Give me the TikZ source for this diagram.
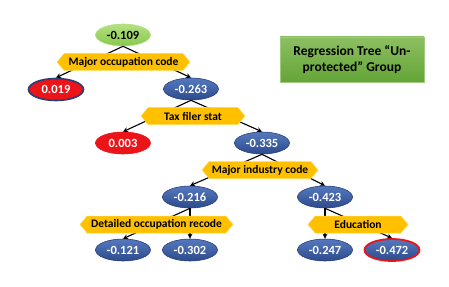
\documentclass[tikz,border=0pt]{standalone}
\usepackage{fontspec}
\setmainfont{Carlito}
\usetikzlibrary{shapes.geometric,shapes.symbols,arrows.meta}
\definecolor{nblue}{RGB}{62,96,165}
\definecolor{nbluetop}{RGB}{85,120,190}
\definecolor{nbluebot}{RGB}{45,75,140}
\definecolor{nborder}{RGB}{40,62,118}
\definecolor{nred}{RGB}{235,20,25}
\definecolor{ban}{RGB}{255,192,0}
\definecolor{banedge}{RGB}{255,220,80}
\definecolor{gtop}{RGB}{180,225,130}
\definecolor{gbot}{RGB}{135,200,75}
\definecolor{tgreen}{RGB}{120,180,70}
\definecolor{tgreenbot}{RGB}{100,165,55}
\tikzset{
  leaf/.style={ellipse, minimum width=55pt, minimum height=22pt, inner sep=0pt,
    top color=nbluetop, bottom color=nbluebot, draw=nborder, line width=0.6pt,
    text=white, font=\bfseries\fontsize{12.5}{14}\selectfont},
  redleaf/.style={leaf, top color=nred, bottom color=nred, draw=nred},
  rootnode/.style={leaf, top color=gtop, bottom color=gbot, draw=gtop, text=black},
  banner/.style={signal, signal to=west and east, signal pointer angle=100,
    minimum height=17pt, inner sep=0pt, fill=ban, draw=banedge, line width=0.5pt,
    font=\bfseries\fontsize{11.5}{13}\selectfont, text=black},
  edge/.style={draw=black, line width=1.1pt, -{Stealth[length=5pt,width=5pt]}}
}
\begin{document}
\begin{tikzpicture}[x=1pt,y=-1pt]
\useasboundingbox (0,0) rectangle (449,286);
% title
\node[rectangle, minimum width=144pt, minimum height=45pt, inner sep=0pt,
  top color=tgreen!85!white, bottom color=tgreenbot, draw=tgreen!70!white, line width=0.6pt,
  align=center, font=\bfseries\fontsize{13.5}{16}\selectfont] (title) at (352,59.5)
  {Regression Tree “Un-\\protected” Group};
% value nodes
\node[rootnode] (n0) at (123,35) {-0.109};
\node[redleaf, draw=nborder, line width=1.6pt] (n1) at (56,89.5) {0.019};
\node[leaf] (n2) at (191,89) {-0.263};
\node[redleaf] (n3) at (123,143) {0.003};
\node[leaf] (n4) at (262,143) {-0.335};
\node[leaf] (n5) at (190,197) {-0.216};
\node[leaf] (n6) at (325,197) {-0.423};
\node[leaf] (n7) at (123,250) {-0.121};
\node[leaf] (n8) at (190,250) {-0.302};
\node[leaf] (n9) at (325,250) {-0.247};
\node[leaf, draw=nred, line width=1.8pt] (n10) at (392,250) {-0.472};
% connectors
\draw[edge] (n0.south) -- (n1.north);
\draw[edge] (n0.south) -- (n2.north);
\draw[edge] (n2.south) -- (n3.north);
\draw[edge] (n2.south) -- (n4.north);
\draw[edge] (n4.south) -- (n5.north);
\draw[edge] (n4.south) -- (n6.north);
\draw[edge] (n5.south) -- (n7.north);
\draw[edge] (n5.south) -- (n8.north);
\draw[edge] (n6.south) -- (n9.north);
\draw[edge] (n6.south) -- (n10.north);
% split labels
\node[banner, minimum width=133pt] (b1) at (123.5,62) {Major occupation code};
\node[banner, minimum width=104pt] (b2) at (193,116) {Tax filer stat};
\node[banner, minimum width=116pt] (b3) at (260,170) {Major industry code};
\node[banner, minimum width=153pt] (b4) at (156.5,224.5) {Detailed occupation recode};
\node[banner, minimum width=100pt] (b5) at (358,224.5) {Education};
\end{tikzpicture}
\end{document}
